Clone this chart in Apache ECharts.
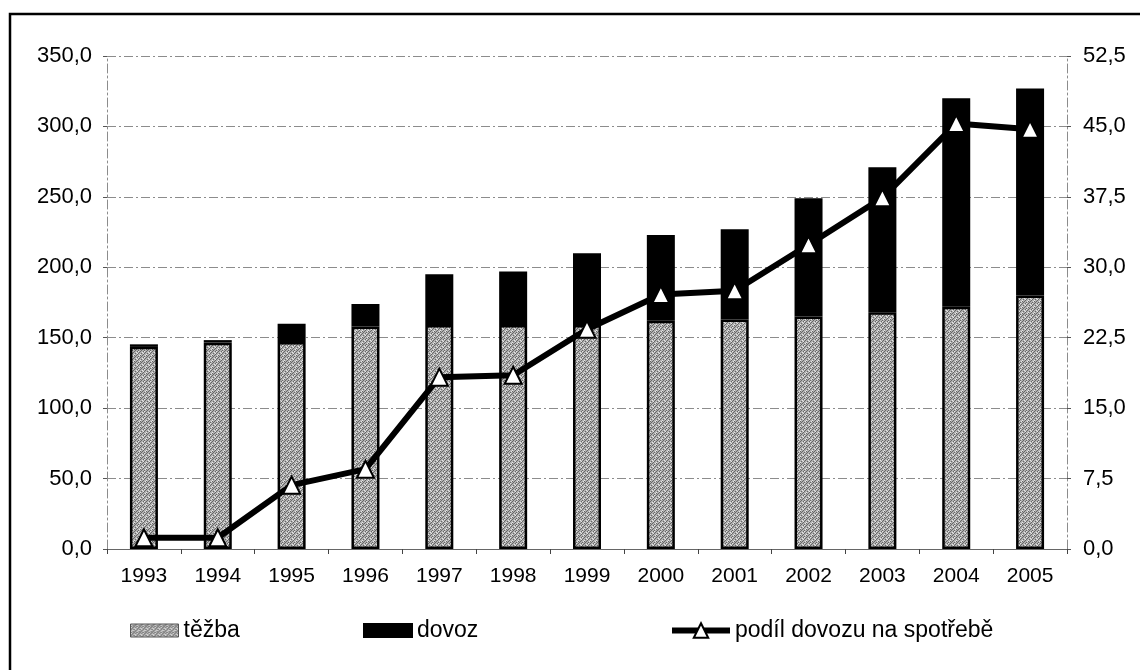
<!DOCTYPE html>
<html>
<head>
<meta charset="utf-8">
<script src="https://cdn.jsdelivr.net/npm/echarts@6/dist/echarts.min.js"></script>
<style>
  html, body { margin: 0; padding: 0; background: #fff; }
  #chart { width: 1140px; height: 670px; }
</style>
</head>
<body>
<div id="chart"></div>
<script>
// data
const years = ['1993', '1994', '1995', '1996', '1997', '1998', '1999', '2000', '2001', '2002', '2003', '2004', '2005'];
const tezba = [143.5, 146.5, 147, 158, 159, 159, 159, 162, 163, 165, 168, 172, 180];
const dovoz = [1.8, 1.8, 13, 16, 36, 38, 51, 61, 64, 84, 103, 148, 147];
const podil = [1.2, 1.2, 6.8, 8.5, 18.3, 18.5, 23.4, 27.1, 27.5, 32.4, 37.4, 45.3, 44.7];

const FONT = '"Liberation Sans", Arial, sans-serif';

// grey stipple texture for the "těžba" bars
function makeTexture() {
    const c = document.createElement('canvas');
    c.width = 6; c.height = 6;
    const ctx = c.getContext('2d');
    ctx.fillStyle = '#b0b0b0';
    ctx.fillRect(0, 0, 6, 6);
    ctx.fillStyle = '#666';
    const dots = [[0, 5], [1, 4], [2, 3], [3, 2], [4, 1], [5, 0], [0, 2], [3, 5], [5, 3], [2, 1]];
    dots.forEach(d => ctx.fillRect(d[0], d[1], 1, 1));
    ctx.fillStyle = '#e6e6e6';
    [[1, 1], [4, 4], [2, 0], [0, 3], [5, 5]].forEach(d => ctx.fillRect(d[0], d[1], 1, 1));
    return c;
}
const texture = { image: makeTexture(), repeat: 'repeat' };

const fmt = d => v => v.toFixed(d).replace('.', ',');
const gridLine = { show: true, lineStyle: { color: '#8c8c8c', width: 1, type: [9, 3, 2, 3] } };
const legendText = { fontFamily: FONT, fontSize: 23, color: '#000' };
const legendBase = { top: 619, padding: 0, itemGap: 4, textStyle: legendText };

const chart = echarts.init(document.getElementById('chart'));
chart.setOption({
    animation: false,
    backgroundColor: '#fff',
    graphic: [{
        type: 'rect',
        shape: { x: 10, y: 14, width: 1140, height: 700 },
        style: { fill: 'none', stroke: '#000', lineWidth: 2.5 },
        silent: true
    }],
    grid: { left: 107, right: 73, top: 56, bottom: 121 },
    legend: [
        Object.assign({}, legendBase, {
            data: [{ name: 'těžba', icon: 'rect', itemStyle: { borderWidth: 1, borderColor: '#555' } }],
            left: 130, itemWidth: 48, itemHeight: 13
        }),
        Object.assign({}, legendBase, {
            data: [{ name: 'dovoz', icon: 'rect' }],
            left: 363, itemWidth: 48, itemHeight: 13
        }),
        Object.assign({}, legendBase, {
            data: ['podíl dovozu na spotřebě'],
            left: 669, itemWidth: 58, itemHeight: 18,
            lineStyle: { width: 6 }
        })
    ],
    xAxis: {
        type: 'category',
        data: years,
        axisLine: { lineStyle: { color: '#666', width: 1 } },
        axisTick: { show: true, length: 5, lineStyle: { color: '#444' } },
        axisLabel: { fontFamily: FONT, fontSize: 21, color: '#000', margin: 17 }
    },
    yAxis: [
        {
            type: 'value', min: 0, max: 350, interval: 50,
            axisLine: { show: true, lineStyle: { color: '#8c8c8c', type: [9, 3, 2, 3] } },
            axisTick: { show: true, length: 4, lineStyle: { color: '#555' } },
            axisLabel: { fontFamily: FONT, fontSize: 22, color: '#000', margin: 15, formatter: fmt(1) },
            splitLine: gridLine
        },
        {
            type: 'value', min: 0, max: 52.5, interval: 7.5,
            axisLine: { show: true, lineStyle: { color: '#8c8c8c', type: [9, 3, 2, 3] } },
            axisTick: { show: true, length: 4, lineStyle: { color: '#555' } },
            axisLabel: { fontFamily: FONT, fontSize: 22, color: '#000', margin: 16, formatter: fmt(1) },
            splitLine: { show: false }
        }
    ],
    series: [
        {
            name: 'těžba', type: 'bar', stack: 'total', barWidth: 28,
            data: tezba,
            itemStyle: { color: texture, borderColor: '#000', borderWidth: 2.5 }
        },
        {
            name: 'dovoz', type: 'bar', stack: 'total', barWidth: 28,
            data: dovoz,
            itemStyle: { color: '#000', borderColor: '#000', borderWidth: 2.5 }
        },
        {
            name: 'podíl dovozu na spotřebě', type: 'line', yAxisIndex: 1,
            data: podil,
            symbol: 'triangle', symbolSize: 17,
            lineStyle: { color: '#000', width: 6 },
            itemStyle: { color: '#fff', borderColor: '#000', borderWidth: 2 }
        }
    ]
});
</script>
</body>
</html>
